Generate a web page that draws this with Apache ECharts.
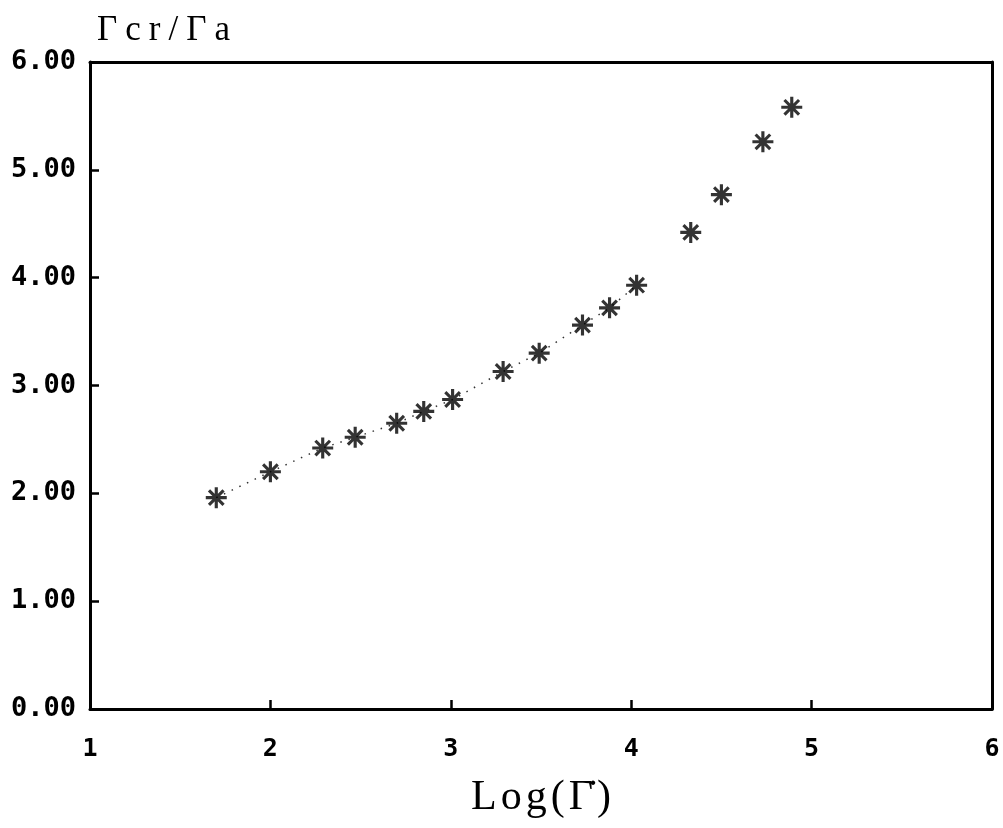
<!DOCTYPE html>
<html>
<head>
<meta charset="utf-8">
<script src="https://cdn.jsdelivr.net/npm/echarts@6/dist/echarts.min.js"></script>
<style>
  html, body { margin: 0; padding: 0; background: #fff; }
  #chart { width: 1003px; height: 828px; }
</style>
</head>
<body>
<div id="chart"></div>
<script>
// Log of the rate (x) and the critical ratio Γcr/Γa (y)
const logRate = [1.70, 2.00, 2.29, 2.47, 2.70, 2.85, 3.01, 3.29, 3.49, 3.73, 3.88, 4.03, 4.33, 4.50, 4.73, 4.89];
const ratio   = [1.96, 2.20, 2.42, 2.52, 2.65, 2.76, 2.87, 3.13, 3.30, 3.56, 3.72, 3.93, 4.42, 4.77, 5.26, 5.58];
// the dotted trace joins the first twelve measurements
const traceCount = 12;

const xTicks = [1, 2, 3, 4, 5, 6];
const yTicks = [0, 1, 2, 3, 4, 5, 6];

const xName = 'Log(\u0393\u0307)';
const yName = '\u0393cr/\u0393a';

const points = logRate.map((x, i) => [x, ratio[i]]);
const trace = points.slice(0, traceCount);

// asterisk marker: horizontal, vertical and two diagonal bars
const asterisk = 'path://M0 8.5 L20 8.5 L20 11.5 L0 11.5 Z M8.5 0 L11.5 0 L11.5 20 L8.5 20 Z ' +
  'M2 4.1 L4.1 2 L18 15.9 L15.9 18 Z M15.9 2 L18 4.1 L4.1 18 L2 15.9 Z';

const tickFont = '"DejaVu Sans Mono", monospace';
const nameFont = '"Liberation Serif", "Times New Roman", serif';
const axisLine = { show: true, onZero: false, lineStyle: { color: '#000', width: 3 } };

// wrap every character (with its combining marks) in a spaced rich-text token
const spaced = s => s.match(/.[\u0300-\u036f]*/gu).map(c => '{s|' + c + '}').join('');

const chart = echarts.init(document.getElementById('chart'));
chart.setOption({
  backgroundColor: '#fff',
  animation: false,
  grid: { left: 90, right: 11, top: 62, bottom: 119, show: false, containLabel: false, outerBoundsMode: 'none' },
  xAxis: [{
    type: 'value',
    min: xTicks[0], max: xTicks[xTicks.length - 1], interval: 1,
    name: spaced(xName),
    nameLocation: 'middle',
    nameGap: 68,
    nameTextStyle: {
      color: '#000',
      rich: { s: { fontFamily: nameFont, fontSize: 42, color: '#000', padding: [0, 2, 0, 2] } }
    },
    axisLine: axisLine,
    axisTick: { show: true, inside: true, length: 9, lineStyle: { color: '#000', width: 2.5 } },
    axisLabel: {
      margin: 28, color: '#000', fontFamily: tickFont, fontWeight: 'bold', fontSize: 25,
      formatter: v => String(v)
    },
    splitLine: { show: false }
  }, {
    type: 'value', position: 'top',
    min: xTicks[0], max: xTicks[xTicks.length - 1], interval: 1,
    axisLine: axisLine, axisTick: { show: false }, axisLabel: { show: false }, splitLine: { show: false }
  }],
  yAxis: [{
    type: 'value',
    min: yTicks[0], max: yTicks[yTicks.length - 1], interval: 1,
    name: spaced(yName),
    nameLocation: 'end',
    nameGap: 14,
    nameTextStyle: {
      color: '#000', align: 'left', verticalAlign: 'bottom', padding: [0, 0, 0, 3],
      rich: { s: { fontFamily: nameFont, fontSize: 35, color: '#000', padding: [0, 4, 0, 4] } }
    },
    axisLine: axisLine,
    axisTick: { show: true, inside: true, length: 9, lineStyle: { color: '#000', width: 2.5 } },
    axisLabel: {
      margin: 14, color: '#000', fontFamily: tickFont, fontWeight: 'bold', fontSize: 27,
      formatter: v => v.toFixed(2)
    },
    splitLine: { show: false }
  }, {
    type: 'value', position: 'right',
    min: yTicks[0], max: yTicks[yTicks.length - 1], interval: 1,
    axisLine: axisLine, axisTick: { show: false }, axisLabel: { show: false }, splitLine: { show: false }
  }],
  series: [{
    type: 'line',
    data: trace,
    symbol: 'none',
    lineStyle: { color: '#333', width: 1.5, type: [1.5, 7] },
    z: 1
  }, {
    type: 'scatter',
    data: points,
    symbol: asterisk,
    symbolSize: 21,
    itemStyle: { color: '#000' },
    z: 3
  }]
});
</script>
</body>
</html>
